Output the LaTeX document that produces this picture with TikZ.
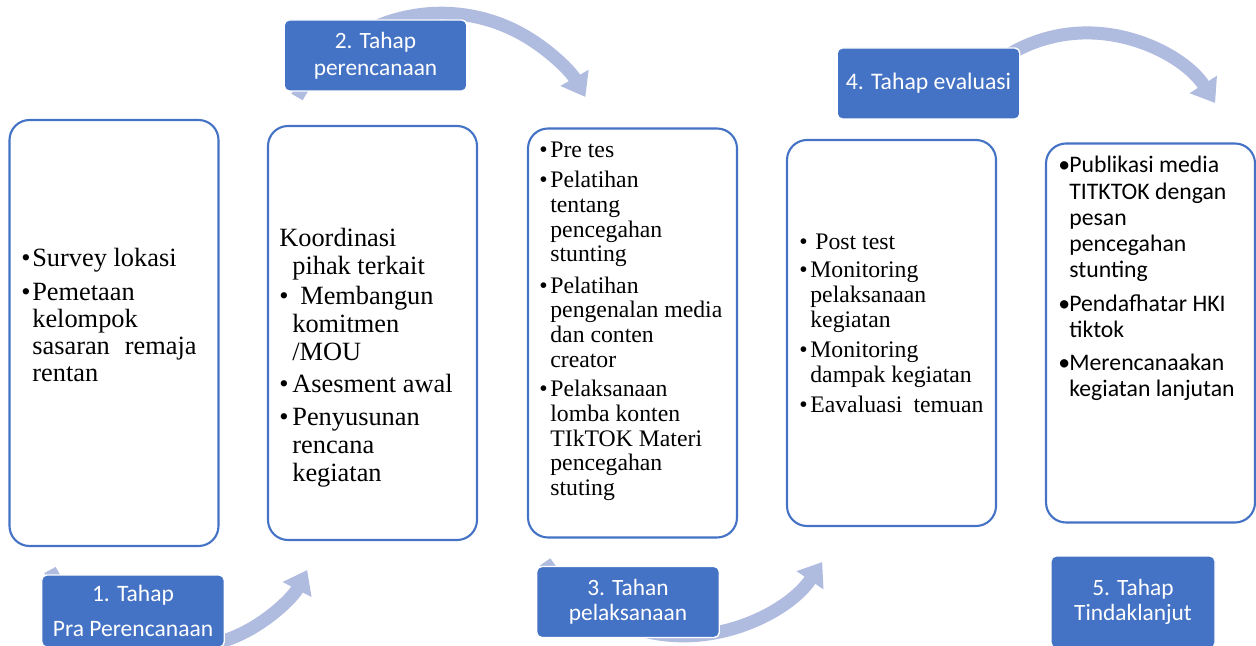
\documentclass[tikz,border=0pt]{standalone}
\usepackage{fontspec}
\setmainfont{Liberation Serif}
\newfontfamily\calibri{Carlito}
\usetikzlibrary{arrows.meta}

\definecolor{stageblue}{HTML}{4472C4}
\definecolor{arcblue}{RGB}{175,187,223}

% bullet item with hanging lines
\newcommand{\itm}[1][0.22cm]{\hangindent=#1\hangafter=1\noindent\makebox[#1][l]{\textbullet}}

\tikzset{
  stagebox/.style={draw=stageblue, line width=1.2pt, rounded corners=0.4cm, minimum width=4.18cm, inner sep=0pt},
  stagelabel/.style={fill=stageblue, draw=white, line width=0.8pt, rounded corners=0.1cm, text=white, align=center, inner sep=0pt, minimum width=3.65cm, minimum height=1.42cm},
  stagetext/.style={anchor=base west, inner sep=0pt, text width=4.1cm, align=left, execute at begin node={\spaceskip=0pt\relax}},
  flowarc/.style={draw=arcblue, line width=0.26cm, -{Triangle[width=0.62cm,length=0.44cm]}}
}

\begin{document}
\begin{tikzpicture}
 \useasboundingbox (0,0) rectangle (25.12,12.9);
 \clip (0,0) rectangle (25.12,12.9);

 \coordinate (a1) at (1.00,1.50);
 \coordinate (a2) at (5.94,10.96);
 \coordinate (a3) at (10.90,1.66);
 \coordinate (a4) at (19.18,10.84);

% curved arrows behind the labels
\draw[flowarc] (a1) arc[start angle=207.5, end angle=332.5, radius=2.90];
\draw[flowarc] (a2) arc[start angle=150.3, end angle=29.7, radius=3.32];
\draw[flowarc] (a3) arc[start angle=213.9, end angle=326.1, radius=3.34];
\draw[flowarc] (a4) arc[start angle=147.4, end angle=32.6, radius=3.04];

% boxes
\foreach \n/\x/\h in {1/2.28/8.52, 2/7.45/8.28, 3/12.65/8.18, 4/17.83/7.72, 5/23.01/7.58}
  \node[stagebox, minimum height=\h cm] (b\n) at (\x,6.24) {};

% stage labels
\node[stagelabel, font=\calibri\fontsize{13.4}{19.8}\selectfont, minimum height=1.44cm] (l1) at (2.66,0.68) {1. Tahap\\Pra Perencanaan};
\node[stagelabel, font=\calibri\fontsize{13.3}{15.3}\selectfont] (l2) at (7.51,11.79) {2. Tahap\\perencanaan};
\node[stagelabel, font=\calibri\fontsize{13.3}{14.3}\selectfont] (l3) at (12.56,0.86) {3. Tahan\\pelaksanaan};
\node[stagelabel, font=\calibri\fontsize{13.5}{15}\selectfont] (l4) at (18.57,11.23) {4. Tahap evaluasi};
\node[stagelabel, font=\calibri\fontsize{13.3}{14.6}\selectfont, minimum width=3.28cm, minimum height=1.84cm] (l5) at (22.66,0.86) {5. Tahap\\Tindaklanjut};

% box texts
\node[stagetext, font=\fontsize{15}{15.4}\selectfont] (t1) at (0.42,7.56) {
  \itm Survey lokasi\\[3.4pt]
  \itm Pemetaan\newline kelompok\newline sasaran\hspace{0.3cm}remaja\newline rentan\par};
\node[stagetext, font=\fontsize{15}{15.9}\selectfont] (t2) at (5.58,7.96) {
  \hangindent=0.26cm\hangafter=1 Koordinasi\newline pihak terkait\\[1.1pt]
  \itm[0.26cm]\hspace{0.16cm}Membangun\newline komitmen\newline /MOU\\[2.3pt]
  \itm[0.26cm]Asesment awal\\[2.8pt]
  \itm[0.26cm]Penyusunan\newline rencana\newline kegiatan\par};
\node[stagetext, font=\fontsize{13.5}{14}\selectfont] (t3) at (10.78,9.74) {
  \itm Pre tes\\[3pt]
  \itm Pelatihan\newline tentang\newline pencegahan\newline stunting\\[4pt]
  \itm Pelatihan\newline pengenalan media\newline dan conten\newline creator\\[3pt]
  \itm Pelaksanaan\newline lomba konten\newline TIkTOK Materi\newline pencegahan\newline stuting\par};
\node[stagetext, font=\fontsize{13.5}{14.2}\selectfont] (t4) at (15.98,7.90) {
  \itm\hspace{0.1cm}Post test\\[1.7pt]
  \itm Monitoring\newline pelaksanaan\newline kegiatan\\[2.8pt]
  \itm Monitoring\newline dampak kegiatan\\[2.8pt]
  \itm Eavaluasi\hspace{0.22cm}temuan\par};
\node[stagetext, font=\calibri\fontsize{13.5}{14.9}\selectfont] (t5) at (21.16,9.44) {
  \itm Publikasi media\newline TITKTOK dengan\newline pesan\newline pencegahan\newline stunting\\[4.4pt]
  \itm Pendafhatar HKI\newline tiktok\\[3.8pt]
  \itm Merencanaakan\newline kegiatan lanjutan\par};
\end{tikzpicture}
\end{document}
